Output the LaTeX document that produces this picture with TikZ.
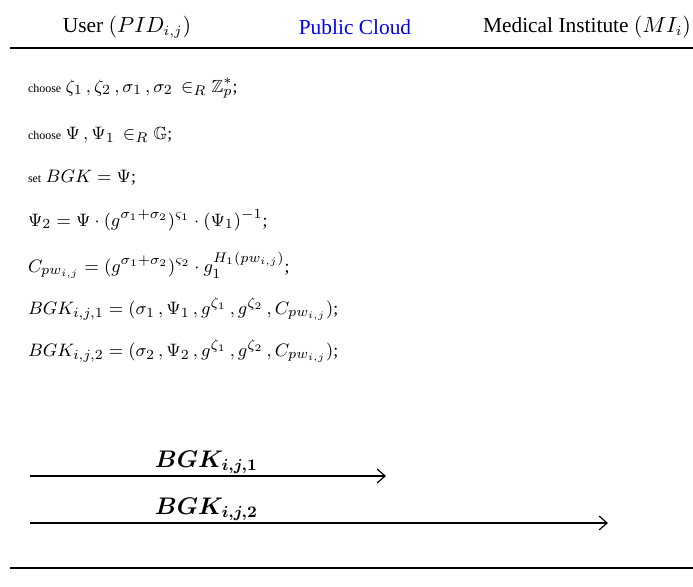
\documentclass[tikz,border=0pt]{standalone}
\usepackage{amsmath,amssymb,bm}
\usepackage{fontspec}
\setmainfont{Liberation Serif}
\usetikzlibrary{arrows.meta}
\DeclareMathSizes{8.8}{8.8}{7}{5.5}

\begin{document}
\begin{tikzpicture}[x=0.5pt,y=-0.5pt,
  every node/.style={inner sep=0pt,outer sep=0pt},
  party/.style={font=\fontsize{10.7}{13}\selectfont},
  protoline/.style={anchor=west,font=\fontsize{8.8}{10}\selectfont},
  msg/.style={font=\fontsize{11.8}{14}\selectfont,anchor=base west},
  msgline/.style={line width=0.6pt,-{Straight Barb[length=4pt,width=7pt]}}]

\useasboundingbox (0,0) rectangle (693,586);

% parties
\node[party] (user) at (127,27) {User $(PID_{i,j})$};
\node[party,text=blue] (cloud) at (355,27) {Public Cloud};
\node[party] (mi) at (587,27) {Medical Institute $(MI_i)$};

\coordinate (topl) at (10,48);
\coordinate (topr) at (693,48);
\draw[line width=0.6pt] (topl) -- (topr);

% user side computations
\newcommand{\wrd}[1]{{\fontsize{6}{7}\selectfont #1}}
\node[protoline] (s1) at (28,88) {\wrd{choose} $\zeta_1\,,\zeta_2\,,\sigma_1\,,\sigma_2\,\in_R\mathbb{Z}_p^*$;};
\node[protoline] (s2) at (28,135) {\wrd{choose} $\Psi\,,\Psi_1\,\in_R\mathbb{G}$;};
\node[protoline] (s3) at (28,178) {\wrd{set} $BGK=\Psi$;};
\node[protoline] (s4) at (28,220) {$\Psi_2=\Psi\cdot(g^{\sigma_1+\sigma_2})^{\varsigma_1}\cdot(\Psi_1)^{-1}$;};
\node[protoline] (s5) at (28,265) {$C_{pw_{i,j}}=(g^{\sigma_1+\sigma_2})^{\varsigma_2}\cdot g_1^{H_1(pw_{i,j})}$;};
\node[protoline] (s6) at (28,309) {$BGK_{i,j,1}=(\sigma_1\,,\Psi_1\,,g^{\zeta_1}\,,g^{\zeta_2}\,,C_{pw_{i,j}})$;};
\node[protoline] (s7) at (28,351) {$BGK_{i,j,2}=(\sigma_2\,,\Psi_2\,,g^{\zeta_1}\,,g^{\zeta_2}\,,C_{pw_{i,j}})$;};

% messages
\coordinate (m1s) at (30,476);
\coordinate (m1e) at (386,476);
\draw[msgline] (m1s) -- (m1e);
\node[msg] (l1) at (155,467) {$\bm{BGK_{i,j,1}}$};
\coordinate (m2s) at (30,523);
\coordinate (m2e) at (608,523);
\draw[msgline] (m2s) -- (m2e);
\node[msg] (l2) at (155,514) {$\bm{BGK_{i,j,2}}$};

\coordinate (botl) at (10,568);
\coordinate (botr) at (693,568);
\draw[line width=0.6pt] (botl) -- (botr);
\end{tikzpicture}
\end{document}
